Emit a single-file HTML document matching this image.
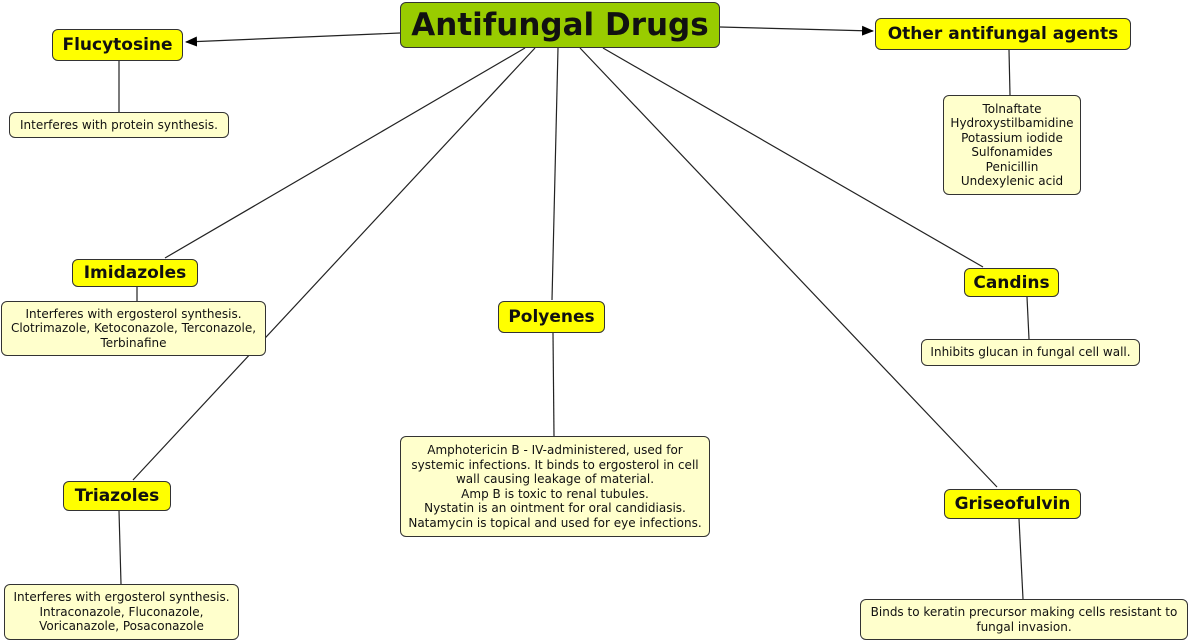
<!DOCTYPE html>
<html><head><meta charset="utf-8"><style>
body{margin:0;width:1191px;height:644px;background:#fff;position:relative;overflow:hidden;font-family:"DejaVu Sans","Liberation Sans",sans-serif;}
.b{position:absolute;box-sizing:border-box;border:1px solid #333;border-radius:6px;display:flex;align-items:center;justify-content:center;text-align:center;}
.n{background:#ffff00;font-weight:bold;font-size:17px;color:#111;}
.d{background:#ffffcc;font-size:12px;line-height:14.5px;color:#111;}
svg{position:absolute;left:0;top:0;}
</style></head><body>
<svg width="1191" height="644">
<defs><marker id="a" markerWidth="12" markerHeight="10" refX="11" refY="5" orient="auto" markerUnits="userSpaceOnUse"><path d="M0,0L12,5L0,10z" fill="#000"/></marker></defs>
<g stroke="#222" stroke-width="1.2" fill="none">
<line x1="400" y1="33" x2="186" y2="42" marker-end="url(#a)"/>
<line x1="720" y1="27" x2="873" y2="31" marker-end="url(#a)"/>
<line x1="525" y1="48" x2="165" y2="258"/>
<line x1="535" y1="48" x2="133" y2="480"/>
<line x1="558" y1="48" x2="552" y2="300"/>
<line x1="580" y1="48" x2="997" y2="487"/>
<line x1="603" y1="48" x2="983" y2="267"/>
<line x1="119" y1="61" x2="119" y2="112"/>
<line x1="1009" y1="50" x2="1010" y2="95"/>
<line x1="137" y1="287" x2="137" y2="301"/>
<line x1="553" y1="333" x2="554" y2="436"/>
<line x1="1027" y1="297" x2="1029" y2="339"/>
<line x1="119" y1="511" x2="121" y2="584"/>
<line x1="1019" y1="519" x2="1023" y2="599"/>
</g></svg>
<div class="b n" style="left:400px;top:2px;width:320px;height:46px;background:#99cc00;font-size:31px;">Antifungal Drugs</div>
<div class="b n" style="left:52px;top:29px;width:131px;height:32px;">Flucytosine</div>
<div class="b d" style="left:9px;top:112px;width:220px;height:26px;">Interferes with protein synthesis.</div>
<div class="b n" style="left:875px;top:18px;width:256px;height:32px;">Other antifungal agents</div>
<div class="b d" style="left:943px;top:95px;width:138px;height:100px;">Tolnaftate<br>Hydroxystilbamidine<br>Potassium iodide<br>Sulfonamides<br>Penicillin<br>Undexylenic acid</div>
<div class="b n" style="left:72px;top:259px;width:126px;height:28px;">Imidazoles</div>
<div class="b d" style="left:1px;top:301px;width:265px;height:55px;">Interferes with ergosterol synthesis.<br>Clotrimazole, Ketoconazole, Terconazole,<br>Terbinafine</div>
<div class="b n" style="left:498px;top:301px;width:107px;height:32px;">Polyenes</div>
<div class="b d" style="left:400px;top:436px;width:310px;height:101px;">Amphotericin B - IV-administered, used for<br>systemic infections. It binds to ergosterol in cell<br>wall causing leakage of material.<br>Amp B is toxic to renal tubules.<br>Nystatin is an ointment for oral candidiasis.<br>Natamycin is topical and used for eye infections.</div>
<div class="b n" style="left:964px;top:268px;width:95px;height:29px;">Candins</div>
<div class="b d" style="left:921px;top:339px;width:219px;height:27px;">Inhibits glucan in fungal cell wall.</div>
<div class="b n" style="left:63px;top:481px;width:108px;height:30px;">Triazoles</div>
<div class="b d" style="left:4px;top:584px;width:235px;height:56px;">Interferes with ergosterol synthesis.<br>Intraconazole, Fluconazole,<br>Voricanazole, Posaconazole</div>
<div class="b n" style="left:944px;top:489px;width:137px;height:30px;">Griseofulvin</div>
<div class="b d" style="left:860px;top:599px;width:328px;height:41px;">Binds to keratin precursor making cells resistant to<br>fungal invasion.</div>
</body></html>
